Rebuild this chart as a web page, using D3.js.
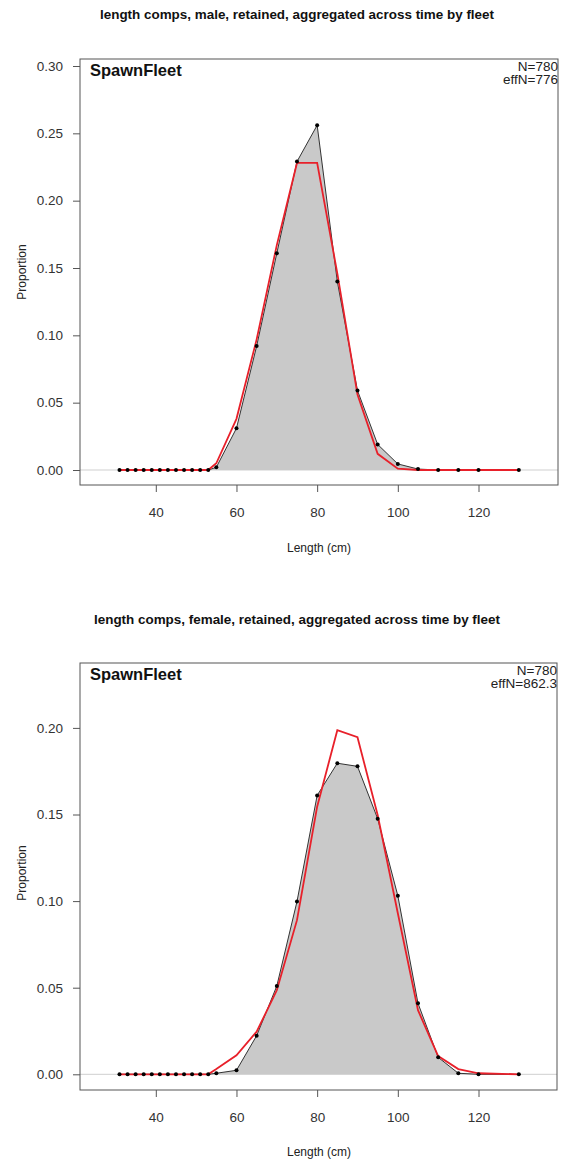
<!DOCTYPE html>
<html><head><meta charset="utf-8">
<script src="https://cdn.jsdelivr.net/npm/d3@7"></script>
<style>body{margin:0;background:#fff}svg{display:block}text{font-family:"Liberation Sans",Arial,sans-serif}</style>
</head><body><svg id="c" width="562" height="1165"></svg>
<script>
const lengths = [31,33,35,37,39,41,43,45,47,49,51,53,55,60,65,70,75,80,85,90,95,100,105,110,115,120,130];
const maleObs = [0,0,0,0,0,0,0,0,0,0,0,0,0.002,0.031,0.092,0.161,0.229,0.256,0.140,0.059,0.019,0.0045,0.0007,0,0,0,0];
const maleExp = [0,0,0,0,0,0,0,0,0,0,0,0,0.005,0.038,0.097,0.167,0.228,0.228,0.146,0.056,0.012,0.001,0,0,0,0,0];
const femObs = [0,0,0,0,0,0,0,0,0,0,0,0,0.0006,0.0023,0.0223,0.051,0.0997,0.161,0.1796,0.1778,0.1476,0.1031,0.041,0.0098,0.0006,0,0];
const femExp = [0,0,0,0,0,0,0,0,0,0,0,0,0.003,0.011,0.0246,0.0485,0.089,0.1545,0.1987,0.1946,0.1497,0.093,0.037,0.0105,0.003,0.0006,0];
const xTicks = [40,60,80,100,120];
const maleYTicks = [0,0.05,0.10,0.15,0.20,0.25,0.30];
const femYTicks = [0,0.05,0.10,0.15,0.20];
const titles = ["length comps, male, retained, aggregated across time by fleet","length comps, female, retained, aggregated across time by fleet"];
const fleet = "SpawnFleet";
const Ns = ["N=780","N=780"];
const effNs = ["effN=776","effN=862.3"];

const svg = d3.select("#c");
const FONT = "Liberation Sans, Arial, sans-serif";

function panel(cfg){
  const {box, y0px, ytopVal, ytopPx, obs, exp, yTicks, title, titleLen, titleY, xlabY, ylabY, N, effN} = cfg;
  const x = d3.scaleLinear().domain([40,120]).range([155.8,478.5]);
  const y = d3.scaleLinear().domain([0,ytopVal]).range([y0px,ytopPx]);
  const g = svg.append("g");
  g.append("text").attr("x",297).attr("y",titleY).attr("text-anchor","middle")
    .attr("font-size",12.5).attr("font-weight","bold").attr("fill","#111")
    .attr("textLength",titleLen).attr("lengthAdjust","spacingAndGlyphs").text(title);
  const data = lengths.map((l,i)=>({l,o:obs[i],e:exp[i]}));
  g.append("line").attr("x1",box.x0).attr("x2",box.x1).attr("y1",y(0)).attr("y2",y(0))
    .attr("stroke","#cfcfcf").attr("stroke-width",1);
  const area = d3.area().x(d=>x(d.l)).y0(y(0)).y1(d=>y(d.o));
  g.append("path").datum(data).attr("d",area).attr("fill","#c9c9c9").attr("stroke","none");
  const lineO = d3.line().x(d=>x(d.l)).y(d=>y(d.o));
  g.append("path").datum(data).attr("d",lineO).attr("fill","none").attr("stroke","#333").attr("stroke-width",1);
  const lineE = d3.line().x(d=>x(d.l)).y(d=>y(d.e));
  g.append("path").datum(data).attr("d",lineE).attr("fill","none").attr("stroke","#e8202a").attr("stroke-width",1.8);
  g.selectAll("circle").data(data).enter().append("circle")
    .attr("cx",d=>x(d.l)).attr("cy",d=>y(d.o)).attr("r",2).attr("fill","#000");
  g.append("rect").attr("x",box.x0).attr("y",box.y0).attr("width",box.x1-box.x0).attr("height",box.y1-box.y0)
    .attr("fill","none").attr("stroke","#555").attr("stroke-width",1);
  const ya = g.append("g").attr("transform",`translate(${box.x0},0)`)
    .call(d3.axisLeft(y).tickValues(yTicks).tickFormat(d3.format(".2f")).tickSize(7).tickPadding(10));
  ya.select(".domain").remove();
  ya.selectAll("line").attr("stroke","#555");
  ya.selectAll("text").attr("font-size",13.5).attr("fill","#333").attr("font-family",FONT);
  const xa = g.append("g").attr("transform",`translate(0,${box.y1})`)
    .call(d3.axisBottom(x).tickValues(xTicks).tickFormat(d3.format("d")).tickSize(7).tickPadding(15));
  xa.select(".domain").remove();
  xa.selectAll("line").attr("stroke","#555");
  xa.selectAll("text").attr("font-size",13.5).attr("fill","#333").attr("font-family",FONT);
  g.append("text").attr("x",319).attr("y",xlabY).attr("text-anchor","middle").attr("font-size",12).attr("fill","#222").text("Length (cm)");
  g.append("text").attr("transform",`translate(26,${ylabY}) rotate(-90)`).attr("text-anchor","middle").attr("font-size",12).attr("fill","#222").text("Proportion");
  g.append("text").attr("x",box.x0+10).attr("y",box.y0+17).attr("font-size",16.5).attr("font-weight","bold").attr("fill","#111").text(fleet);
  g.append("text").attr("x",box.x1).attr("y",box.y0+12).attr("text-anchor","end").attr("font-size",13.5).attr("fill","#222").text(N);
  g.append("text").attr("x",box.x1).attr("y",box.y0+25).attr("text-anchor","end").attr("font-size",13.5).attr("fill","#222").text(effN);
}

panel({box:{x0:80,x1:558,y0:59,y1:485}, y0px:470, ytopVal:0.30, ytopPx:66, obs:maleObs, exp:maleExp,
  yTicks:maleYTicks, title:titles[0], titleLen:394, titleY:19, xlabY:552, ylabY:272, N:Ns[0], effN:effNs[0]});
panel({box:{x0:80,x1:557,y0:663,y1:1090}, y0px:1074.3, ytopVal:0.20, ytopPx:727.9, obs:femObs, exp:femExp,
  yTicks:femYTicks, title:titles[1], titleLen:406, titleY:624, xlabY:1156, ylabY:873, N:Ns[1], effN:effNs[1]});
</script></body></html>
